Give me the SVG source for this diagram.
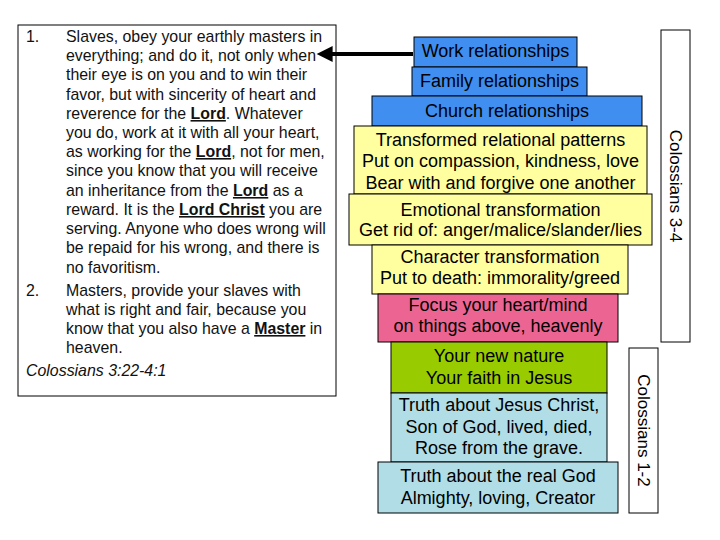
<svg xmlns="http://www.w3.org/2000/svg" width="720" height="540" viewBox="0 0 720 540">
<defs>
<style>
.b{stroke:#000;stroke-width:1}
.bl{fill:#3f8ef0}
.ye{fill:#ffffa0}
.pk{fill:#ec6592}
.gr{fill:#99cc00}
.lb{fill:#b0dde6}
.t{font-family:"Liberation Sans",Arial,sans-serif;font-size:18px;fill:#000;text-anchor:middle}
.p{font-family:"Liberation Sans",Arial,sans-serif;font-size:15.9px;fill:#111}
.u{font-weight:bold;text-decoration:underline}
.v{font-family:"Liberation Sans",Arial,sans-serif;font-size:17px;fill:#000;text-anchor:middle;dominant-baseline:central}
</style>
<marker id="ah" viewBox="0 0 10 10" refX="1" refY="5" markerWidth="5.5" markerHeight="4" orient="auto-start-reverse" markerUnits="strokeWidth">
<path d="M0,0 L10,5 L0,10 z" fill="#000"/>
</marker>
</defs>
<rect width="720" height="540" fill="#fff"/>

<g id="scripture">
<rect x="18" y="25" width="318" height="371" fill="#fff" class="b"/>
<text class="p" x="26" y="42">1.</text>
<text class="p" x="66" y="42">Slaves, obey your earthly masters in</text>
<text class="p" x="66" y="61">everything; and do it, not only when</text>
<text class="p" x="66" y="80">their eye is on you and to win their</text>
<text class="p" x="66" y="100">favor, but with sincerity of heart and</text>
<text class="p" x="66" y="119">reverence for the <tspan class="u">Lord</tspan>. Whatever</text>
<text class="p" x="66" y="138">you do, work at it with all your heart,</text>
<text class="p" x="66" y="157">as working for the <tspan class="u">Lord</tspan>, not for men,</text>
<text class="p" x="66" y="176">since you know that you will receive</text>
<text class="p" x="66" y="196">an inheritance from the <tspan class="u">Lord</tspan> as a</text>
<text class="p" x="66" y="215">reward. It is the <tspan class="u">Lord Christ</tspan> you are</text>
<text class="p" x="66" y="234">serving. Anyone who does wrong will</text>
<text class="p" x="66" y="253">be repaid for his wrong, and there is</text>
<text class="p" x="66" y="273">no favoritism.</text>
<text class="p" x="26" y="296">2.</text>
<text class="p" x="66" y="296">Masters, provide your slaves with</text>
<text class="p" x="66" y="315">what is right and fair, because you</text>
<text class="p" x="66" y="334">know that you also have a <tspan class="u">Master</tspan> in</text>
<text class="p" x="66" y="353">heaven.</text>
<text class="p" x="26" y="376" font-style="italic">Colossians 3:22-4:1</text>
</g>

<g id="connectors">
<line x1="413" y1="54" x2="331" y2="54" stroke="#000" stroke-width="4" marker-end="url(#ah)"/>
</g>

<g id="work">
<rect x="414" y="37" width="163" height="30" class="b bl"/>
<text class="t" x="495.5" y="57">Work relationships</text>
</g>
<g id="family">
<rect x="412" y="67" width="175" height="29" class="b bl"/>
<text class="t" x="499.5" y="87">Family relationships</text>
</g>
<g id="church">
<rect x="372" y="96" width="270" height="30" class="b bl"/>
<text class="t" x="507" y="117">Church relationships</text>
</g>
<g id="relational">
<rect x="354" y="126" width="293" height="68" class="b ye"/>
<text class="t" x="500.5" y="146">Transformed relational patterns</text>
<text class="t" x="500.5" y="167">Put on compassion, kindness, love</text>
<text class="t" x="500.5" y="189">Bear with and forgive one another</text>
</g>
<g id="emotional">
<rect x="349" y="194" width="303" height="51" class="b ye"/>
<text class="t" x="500.5" y="216">Emotional transformation</text>
<text class="t" x="500.5" y="236">Get rid of:  anger/malice/slander/lies</text>
</g>
<g id="character">
<rect x="372" y="245" width="256" height="49" class="b ye"/>
<text class="t" x="500" y="263">Character transformation</text>
<text class="t" x="500" y="284">Put to death: immorality/greed</text>
</g>
<g id="focus">
<rect x="378" y="294" width="240" height="48" class="b pk"/>
<text class="t" x="498" y="311">Focus your heart/mind</text>
<text class="t" x="498" y="332"> on things above, heavenly</text>
</g>
<g id="nature">
<rect x="391" y="342" width="216" height="51" class="b gr"/>
<text class="t" x="499" y="362">Your new nature</text>
<text class="t" x="499" y="384">Your faith in Jesus</text>
</g>
<g id="jesus">
<rect x="391" y="393" width="216" height="69" class="b lb"/>
<text class="t" x="499" y="411">Truth about Jesus Christ,</text>
<text class="t" x="499" y="433">Son of God, lived, died,</text>
<text class="t" x="499" y="454">Rose from the grave.</text>
</g>
<g id="god">
<rect x="378" y="462" width="240" height="51" class="b lb"/>
<text class="t" x="498" y="482">Truth about the real God</text>
<text class="t" x="498" y="504">Almighty, loving, Creator</text>
</g>

<g id="col34">
<rect x="661" y="30" width="29" height="312" fill="#fff" class="b"/>
<text class="v" x="675.5" y="186" transform="rotate(90 675.5 186)">Colossians 3-4</text>
</g>
<g id="col12">
<rect x="629" y="348" width="29" height="165" fill="#fff" class="b"/>
<text class="v" x="643.5" y="430.5" transform="rotate(90 643.5 430.5)">Colossians 1-2</text>
</g>
</svg>
